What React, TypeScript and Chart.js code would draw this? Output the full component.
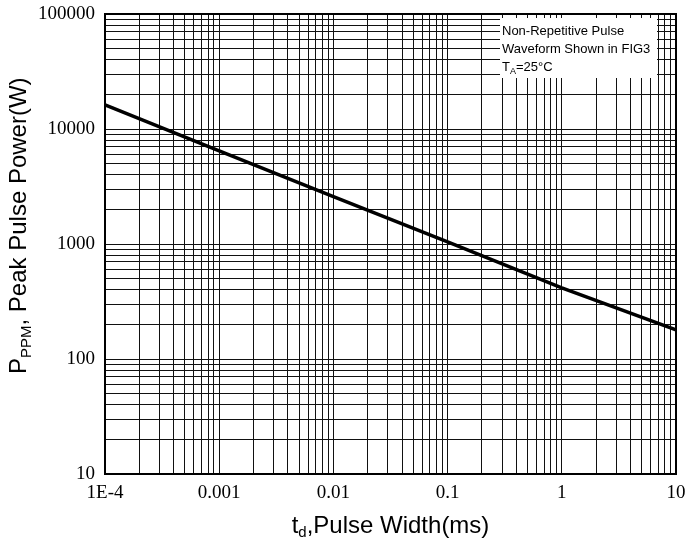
import React, { useEffect, useRef } from "react";
import { Chart, registerables } from "chart.js";

Chart.register(...registerables);

// Data
const pulseWidthMs = [1e-4, 1e-3, 1e-2, 0.1, 1, 10];
const peakPowerW = [16200, 6450, 2580, 1046, 416, 179];

const xDecades = [1e-4, 1e-3, 1e-2, 1e-1, 1, 10];
const xTickLabels = ["1E-4", "0.001", "0.01", "0.1", "1", "10"];
const yDecades = [10, 100, 1000, 10000, 100000];
const yTickLabels = ["10", "100", "1000", "10000", "100000"];

const noteLines = ["Non-Repetitive Pulse", "Waveform Shown in FIG3"];

function logTicks(min: number, max: number) {
  const out: { value: number }[] = [];
  const e0 = Math.round(Math.log10(min));
  const e1 = Math.round(Math.log10(max));
  for (let e = e0; e <= e1; e++) {
    for (let m = 1; m <= 9; m++) {
      const v = parseFloat((m * Math.pow(10, e)).toPrecision(6));
      if (v >= min * 0.999 && v <= max * 1.001) out.push({ value: v });
      if (e === e1) break;
    }
  }
  return out;
}

function labelFor(v: number, decades: number[], labels: string[]) {
  for (let i = 0; i < decades.length; i++) {
    if (Math.abs(v - decades[i]) / decades[i] < 1e-6) return labels[i];
  }
  return "";
}

const SANS = '"Liberation Sans", Arial, sans-serif';

const decorPlugin = {
  id: "decor",
  afterDraw(chart: any) {
    const ctx = chart.ctx as CanvasRenderingContext2D;
    const a = chart.chartArea;
    ctx.save();
    // legend box
    ctx.fillStyle = "#fff";
    ctx.fillRect(500, 18, 157, 60);
    ctx.fillStyle = "#000";
    ctx.textBaseline = "alphabetic";
    ctx.textAlign = "left";
    ctx.font = `13px ${SANS}`;
    ctx.fillText(noteLines[0], 502, 35);
    ctx.fillText(noteLines[1], 502, 53);
    let x = 502;
    ctx.fillText("T", x, 71);
    x += ctx.measureText("T").width;
    ctx.font = `9px ${SANS}`;
    ctx.fillText("A", x, 74);
    x += ctx.measureText("A").width;
    ctx.font = `13px ${SANS}`;
    ctx.fillText("=25°C", x, 71);

    // border
    ctx.strokeStyle = "#000";
    ctx.lineWidth = 2;
    ctx.strokeRect(a.left, a.top, a.right - a.left, a.bottom - a.top);

    // x title
    const parts: [string, number, number][] = [
      ["t", 24, 0],
      ["d", 15, 4],
      [",Pulse Width(ms)", 24, 0],
    ];
    let total = 0;
    for (const [t, s] of parts) {
      ctx.font = `${s}px ${SANS}`;
      total += ctx.measureText(t).width;
    }
    let px = (a.left + a.right) / 2 - total / 2;
    for (const [t, s, off] of parts) {
      ctx.font = `${s}px ${SANS}`;
      ctx.fillText(t, px, 533 + off);
      px += ctx.measureText(t).width;
    }

    // y title (rotated)
    ctx.translate(26, 374);
    ctx.rotate(-Math.PI / 2);
    const yparts: [string, number, number][] = [
      ["P", 24, 0],
      ["PPM", 15, 5],
      [", Peak Pulse Power(W)", 24, 0],
    ];
    let py = 0;
    for (const [t, s, off] of yparts) {
      ctx.font = `${s}px ${SANS}`;
      ctx.fillText(t, py, off);
      py += ctx.measureText(t).width;
    }
    ctx.restore();
  },
};

export default function App() {
  const ref = useRef<HTMLCanvasElement>(null);
  useEffect(() => {
    if (!ref.current) return;
    const chart = new Chart(ref.current, {
      type: "scatter",
      data: {
        datasets: [
          {
            data: pulseWidthMs.map((x, i) => ({ x, y: peakPowerW[i] })),
            showLine: true,
            borderColor: "#000",
            borderWidth: 3.5,
            pointRadius: 0,
            tension: 0,
          },
        ],
      },
      options: {
        animation: false,
        responsive: false,
        devicePixelRatio: 1,
        layout: { padding: { left: 0, top: 14, right: 10, bottom: 0 } },
        plugins: { legend: { display: false }, tooltip: { enabled: false } },
        scales: {
          x: {
            type: "logarithmic",
            min: 1e-4,
            max: 10,
            afterBuildTicks: (s: any) => {
              s.ticks = logTicks(1e-4, 10);
            },
            afterFit: (s: any) => {
              s.height = 71;
              s.paddingLeft = 0;
              s.paddingRight = 0;
            },
            grid: { color: "#111", lineWidth: 1, drawTicks: false },
            border: { color: "#000", width: 2 },
            ticks: {
              autoSkip: false,
              maxRotation: 0,
              padding: 8,
              color: "#000",
              font: { family: '"Liberation Serif", serif', size: 19 },
              callback: (v: any) => labelFor(Number(v), xDecades, xTickLabels),
            },
          },
          y: {
            type: "logarithmic",
            min: 10,
            max: 100000,
            afterBuildTicks: (s: any) => {
              s.ticks = logTicks(10, 100000);
            },
            afterFit: (s: any) => {
              s.width = 105;
              s.paddingTop = 0;
              s.paddingBottom = 0;
            },
            grid: { color: "#111", lineWidth: 1, drawTicks: false },
            border: { color: "#000", width: 2 },
            ticks: {
              autoSkip: false,
              padding: 10,
              color: "#000",
              font: { family: '"Liberation Serif", serif', size: 19 },
              callback: (v: any) => labelFor(Number(v), yDecades, yTickLabels),
            },
          },
        },
      },
      plugins: [decorPlugin],
    } as any);
    return () => chart.destroy();
  }, []);
  return (
    <div style={{ position: "fixed", left: 0, top: 0, width: 686, height: 545, background: "#fff" }}>
      <canvas ref={ref} width={686} height={545} style={{ display: "block" }} />
    </div>
  );
}
